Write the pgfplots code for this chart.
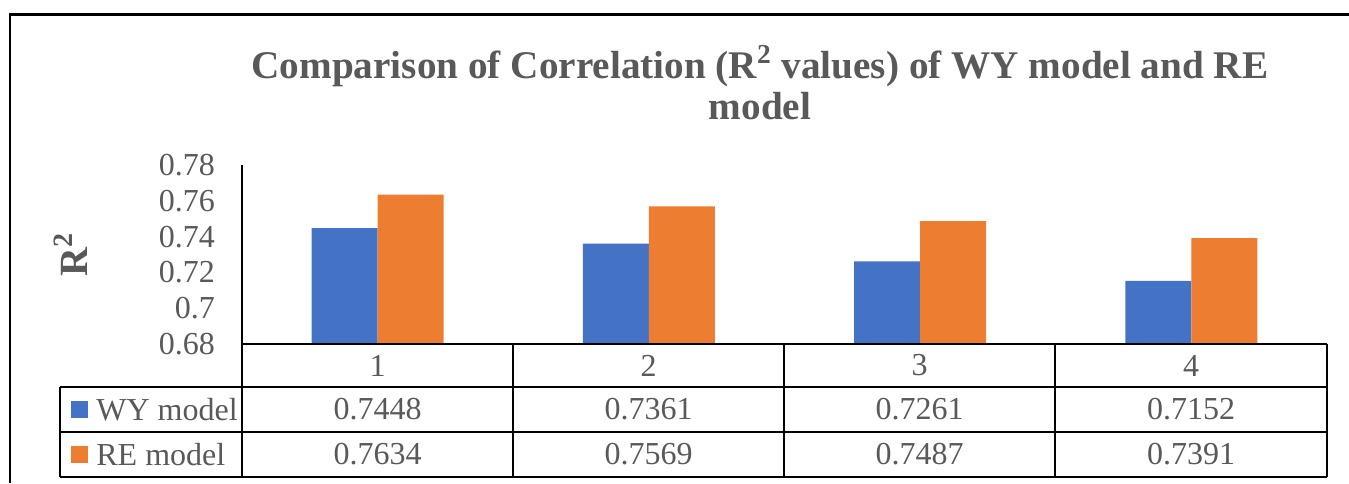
\documentclass[border=0pt]{standalone}
\usepackage{pgfplots}
\pgfplotsset{compat=1.18}
\usepackage{fontspec}
\setmainfont{Liberation Serif}
\definecolor{wyblue}{HTML}{4472C4}
\definecolor{reorange}{HTML}{ED7D31}
\definecolor{txtgray}{HTML}{595959}
\begin{document}
\begin{tikzpicture}[x=1pt,y=1pt]
\path[use as bounding box] (-121,-69.5) rectangle (553.5,172);
\begin{axis}[
  at={(0pt,0pt)}, anchor=south west,
  scale only axis, width=542.5pt, height=89.5pt,
  xmin=0.5, xmax=4.5, ymin=0.68, ymax=0.78,
  xtick=\empty,
  ytick={0.68,0.70,0.72,0.74,0.76,0.78},
  yticklabels={0.68,0.7,0.72,0.74,0.76,0.78},
  axis x line*=bottom, axis y line*=left,
  axis line style={line width=1pt, black, -},
  major tick length=0pt,
  ybar=0pt, bar width=33pt,
  yticklabel style={font=\fontsize{16}{16}\selectfont, text=txtgray, xshift=-10pt},
  ylabel={R\textsuperscript{2}},
  ylabel style={at={(axis description cs:-0.1576,0.5)}, anchor=center, font=\fontsize{20}{20}\selectfont\bfseries, text=txtgray},
]
\addplot[fill=wyblue, draw=none] coordinates {(1,0.7448) (2,0.7361) (3,0.7261) (4,0.7152)};
\addplot[fill=reorange, draw=none] coordinates {(1,0.7634) (2,0.7569) (3,0.7487) (4,0.7391)};
\end{axis}
% outer frame
\draw[line width=1.2pt] (-116,-69.5) -- (-116,164.75) -- (553.5,164.75);
% data table
\draw[line width=1pt] (0,0) -- (542.5,0);
\draw[line width=1pt] (-91,-21.5) -- (542.5,-21.5);
\draw[line width=1pt] (-91,-44) -- (542.5,-44);
\draw[line width=1pt] (-91,-66.5) -- (542.5,-66.5);
\draw[line width=1pt] (-91,-21.5) -- (-91,-66.5);
\foreach \xx in {0,135.5,271,406.5,542.5} {\draw[line width=1pt] (\xx,0) -- (\xx,-66.5);}
\begin{scope}[every node/.style={font=\fontsize{16}{16}\selectfont, text=txtgray}]
\node at (67.75,-10.75) {1};
\node at (203.25,-10.75) {2};
\node at (338.75,-10.75) {3};
\node at (474.5,-10.75) {4};
\node at (67.75,-32.75) {0.7448};
\node at (203.25,-32.75) {0.7361};
\node at (338.75,-32.75) {0.7261};
\node at (474.5,-32.75) {0.7152};
\node at (67.75,-55.25) {0.7634};
\node at (203.25,-55.25) {0.7569};
\node at (338.75,-55.25) {0.7487};
\node at (474.5,-55.25) {0.7391};
\node[anchor=west, inner sep=0pt] at (-73,-32.75) {WY model};
\node[anchor=west, inner sep=0pt] at (-73,-55.25) {RE model};
\end{scope}
\fill[wyblue] (-85.5,-37) rectangle (-77,-28.5);
\fill[reorange] (-85.5,-59.5) rectangle (-77,-51);
\node[font=\fontsize{19.6}{20.5}\selectfont\bfseries, text=txtgray, align=center] at (259,130.75) {Comparison of Correlation (R\textsuperscript{2} values) of WY model and RE\\model};
\end{tikzpicture}
\end{document}
